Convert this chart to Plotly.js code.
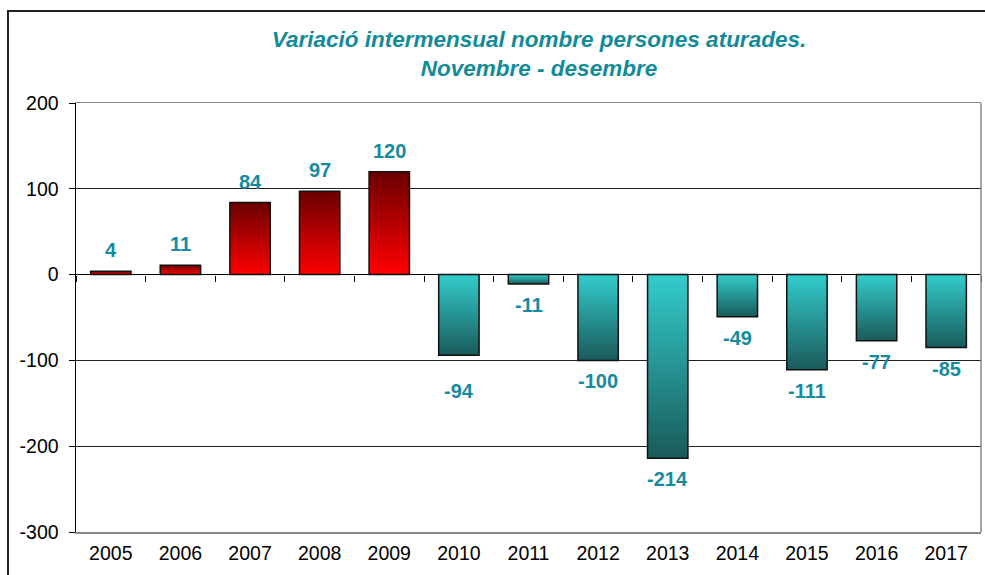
<!DOCTYPE html>
<html><head><meta charset="utf-8">
<script src="https://cdn.plot.ly/plotly-3.0.1.min.js"></script>
<style>
html,body{margin:0;padding:0;background:#fff;overflow:hidden}
#wrap{position:relative;width:985px;height:575px;overflow:hidden}
#chart{position:absolute;left:0;top:0;width:985px;height:575px}
#frame{position:absolute;left:7px;top:10px;width:1000px;height:600px;border-left:2px solid #222;border-top:2px solid #222;pointer-events:none}
</style></head><body>
<div id="wrap"><div id="chart"></div><div id="frame"></div></div>
<script>
// ---- data ----
const years = ['2005','2006','2007','2008','2009','2010','2011','2012','2013','2014','2015','2016','2017'];
const values = [4, 11, 84, 97, 120, -94, -11, -100, -214, -49, -111, -77, -85];
const yTickVals = [-300, -200, -100, 0, 100, 200];
const yTickText = ['-300', '-200', '-100', '0', '100', '200'];
const titleText = 'Variació intermensual nombre persones aturades.<br>Novembre - desembre';

// ---- styling ----
const yMin = -300, yMax = 200;
const labelColor = '#168b9e';
const labelShift = 21;
const extraShift = {'2010': 15};
const fontFam = 'Liberation Sans, Arial, sans-serif';

const bars = {
  type: 'bar',
  x: years,
  y: values,
  width: 0.58,
  marker: {
    color: values.map(v => v >= 0 ? '#c00000' : '#269c9c'),
    line: {color: '#111', width: 1.5}
  },
  hoverinfo: 'x+y',
  showlegend: false
};

const boundaries = years.map((_, i) => i - 0.5).concat([years.length - 0.5]);
const tickHelper = {
  type: 'scatter', mode: 'markers', x: [0], y: [0], xaxis: 'x2',
  marker: {opacity: 0}, hoverinfo: 'skip', showlegend: false
};

const annotations = years.map((yr, i) => {
  const v = values[i];
  const s = labelShift + (extraShift[yr] || 0);
  return {
    x: i, y: v, xref: 'x', yref: 'y',
    text: '<b>' + String(v) + '</b>', showarrow: false,
    yanchor: 'middle', yshift: v >= 0 ? s : -s,
    font: {family: fontFam, size: 20, color: labelColor}
  };
});

const layout = {
  width: 985, height: 575,
  margin: {l: 76, r: 4, t: 103, b: 43},
  paper_bgcolor: '#fff', plot_bgcolor: '#fff',
  font: {family: fontFam, color: '#000'},
  title: {
    text: '<b><i>' + titleText + '</i></b>',
    x: 539 / 985, xanchor: 'center',
    y: 1 - 47 / 575, yanchor: 'top', yref: 'container',
    font: {family: fontFam, size: 22.5, color: '#128a98'}
  },
  xaxis: {
    type: 'category', range: [-0.5, years.length - 0.5],
    showgrid: false, zeroline: false,
    showline: true, linecolor: '#888', linewidth: 1.5, mirror: true,
    ticks: 'outside', ticklen: 3, tickcolor: 'rgba(0,0,0,0)',
    tickfont: {size: 19.5, color: '#000'}, fixedrange: true
  },
  xaxis2: {
    overlaying: 'x', anchor: 'free', position: (0 - yMin) / (yMax - yMin),
    range: [-0.5, years.length - 0.5], showgrid: false, zeroline: false,
    showline: false, ticks: 'outside', ticklen: 6, tickcolor: '#000', tickwidth: 1,
    tickmode: 'array', tickvals: boundaries, showticklabels: false, fixedrange: true
  },
  yaxis: {
    range: [yMin, yMax], tickmode: 'array', tickvals: yTickVals, ticktext: yTickText,
    showgrid: true, gridcolor: '#222', gridwidth: 1,
    zeroline: true, zerolinecolor: '#000', zerolinewidth: 1.5,
    showline: true, linecolor: '#000', linewidth: 1.5,
    ticks: 'outside', ticklen: 6, tickcolor: '#000', ticklabelstandoff: 6,
    tickfont: {size: 19.5, color: '#000'}, fixedrange: true
  },
  shapes: [{
    type: 'line', xref: 'paper', yref: 'paper', x0: 1, x1: 1, y0: 0, y1: 1,
    line: {color: '#888', width: 1.5}
  }],
  annotations: annotations,
  bargap: 0.42
};

Plotly.newPlot('chart', [bars, tickHelper], layout, {staticPlot: true, displayModeBar: false}).then(gd => {
  const svg = gd.querySelector('svg.main-svg');
  const NS = 'http://www.w3.org/2000/svg';
  let defs = svg.querySelector('defs');
  if (!defs) { defs = document.createElementNS(NS, 'defs'); svg.insertBefore(defs, svg.firstChild); }
  function grad(id, top, bottom) {
    const g = document.createElementNS(NS, 'linearGradient');
    g.setAttribute('id', id);
    g.setAttribute('x1', '0'); g.setAttribute('y1', '0');
    g.setAttribute('x2', '0'); g.setAttribute('y2', '1');
    [[0, top], [1, bottom]].forEach(([o, c]) => {
      const s = document.createElementNS(NS, 'stop');
      s.setAttribute('offset', o); s.setAttribute('stop-color', c);
      g.appendChild(s);
    });
    defs.appendChild(g);
  }
  grad('gradRed', '#6a0000', '#ff0000');
  grad('gradTeal', '#33cccc', '#1a5a5a');
  const paths = gd.querySelectorAll('.barlayer .trace.bars .point path');
  paths.forEach((p, i) => {
    p.style.fill = values[i] >= 0 ? 'url(#gradRed)' : 'url(#gradTeal)';
  });
});
</script>
</body></html>
